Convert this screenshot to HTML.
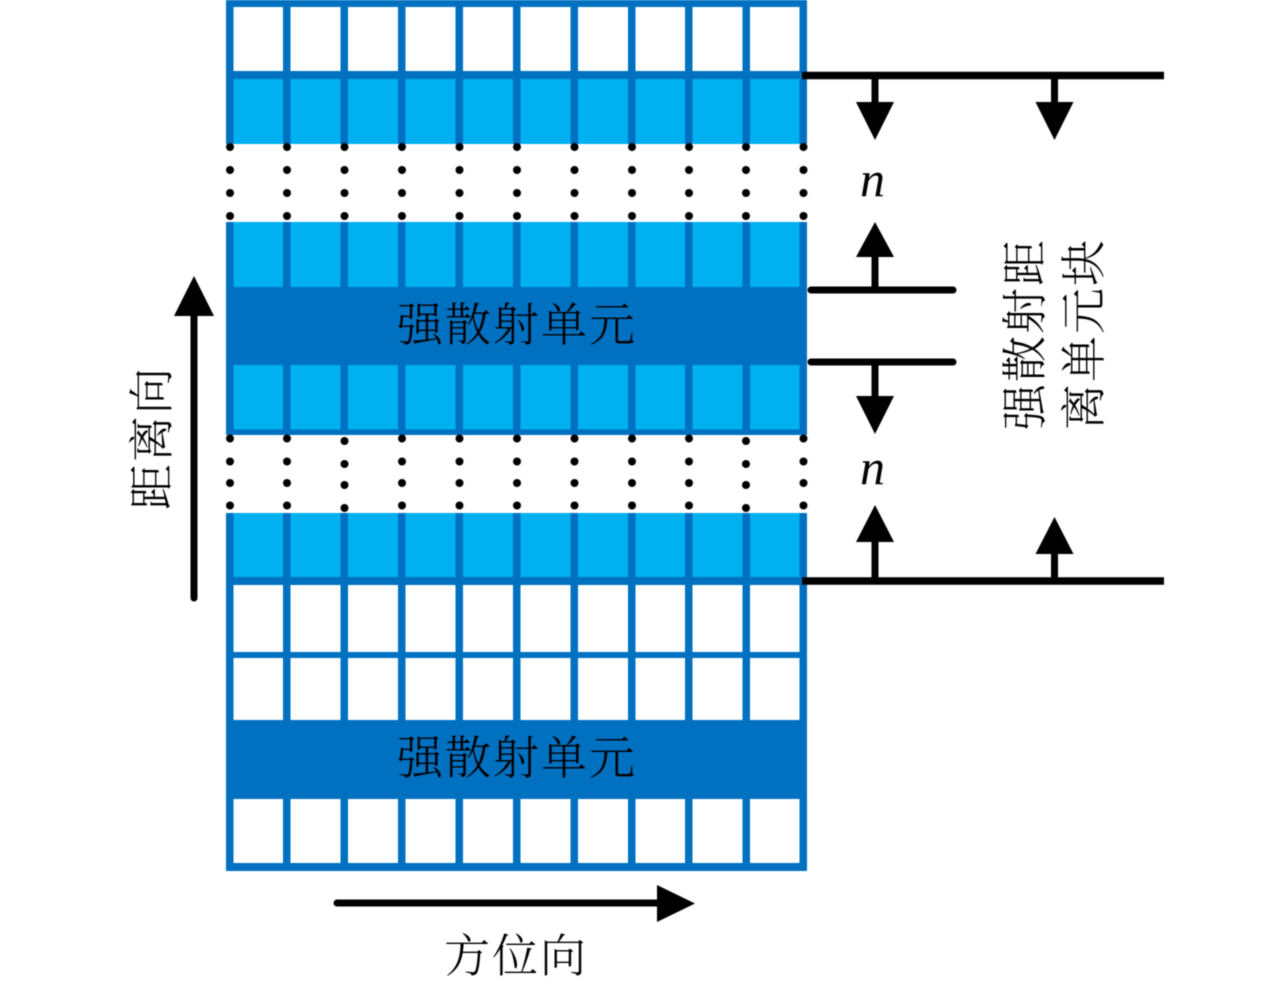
<!DOCTYPE html>
<html lang="zh">
<head>
<meta charset="utf-8">
<title>强散射距离单元块</title>
<style>
html,body{margin:0;padding:0;background:#fff;width:1280px;height:981px;overflow:hidden}
svg{display:block;filter:blur(0.45px)}
text.c{font-family:"Liberation Serif","Noto Serif CJK SC",serif;font-size:46px;font-weight:300;letter-spacing:2px;fill:#000}
</style>
</head>
<body>
<svg width="1280" height="981" viewBox="0 0 1280 981" xmlns="http://www.w3.org/2000/svg">
<rect width="1280" height="981" fill="#fff"/>

<!-- light bands -->
<g fill="#00B0F0">
<rect x="226" y="75" width="581" height="69"/>
<rect x="226" y="222" width="581" height="66"/>
<rect x="226" y="362" width="581" height="70"/>
<rect x="226" y="513" width="581" height="68"/>
</g>

<!-- grid verticals -->
<g fill="#0070C0">
<g>
<rect x="226" y="0" width="7.5" height="144"/><rect x="283" y="0" width="7.5" height="144"/><rect x="340.5" y="0" width="7.5" height="144"/><rect x="398" y="0" width="7.5" height="144"/><rect x="455.5" y="0" width="7.5" height="144"/><rect x="513" y="0" width="7.5" height="144"/><rect x="570.5" y="0" width="7.5" height="144"/><rect x="628" y="0" width="7.5" height="144"/><rect x="685" y="0" width="7.5" height="144"/><rect x="742.5" y="0" width="7.5" height="144"/><rect x="799.5" y="0" width="7.5" height="144"/>
</g>
<g>
<rect x="226" y="222" width="7.5" height="212"/><rect x="283" y="222" width="7.5" height="212"/><rect x="340.5" y="222" width="7.5" height="212"/><rect x="398" y="222" width="7.5" height="212"/><rect x="455.5" y="222" width="7.5" height="212"/><rect x="513" y="222" width="7.5" height="212"/><rect x="570.5" y="222" width="7.5" height="212"/><rect x="628" y="222" width="7.5" height="212"/><rect x="685" y="222" width="7.5" height="212"/><rect x="742.5" y="222" width="7.5" height="212"/><rect x="799.5" y="222" width="7.5" height="212"/>
</g>
<g>
<rect x="226" y="513" width="7.5" height="358"/><rect x="283" y="513" width="7.5" height="358"/><rect x="340.5" y="513" width="7.5" height="358"/><rect x="398" y="513" width="7.5" height="358"/><rect x="455.5" y="513" width="7.5" height="358"/><rect x="513" y="513" width="7.5" height="358"/><rect x="570.5" y="513" width="7.5" height="358"/><rect x="628" y="513" width="7.5" height="358"/><rect x="685" y="513" width="7.5" height="358"/><rect x="742.5" y="513" width="7.5" height="358"/><rect x="799.5" y="513" width="7.5" height="358"/>
</g>
<!-- horizontals -->
<rect x="226" y="0" width="581" height="7"/>
<rect x="226" y="71" width="581" height="8"/>
<rect x="226" y="429.500" width="581" height="5.500"/>
<rect x="226" y="577" width="581" height="8"/>
<rect x="226" y="652" width="581" height="6"/>
<rect x="226" y="863" width="581" height="8"/>
<!-- dark bands -->
<rect x="226" y="287" width="581" height="78"/>
<rect x="226" y="720" width="581" height="79"/>
</g>

<!-- dots -->
<g fill="#000">
<g>
<circle cx="230" cy="147" r="4"/><circle cx="230" cy="170" r="4"/><circle cx="230" cy="193" r="4"/><circle cx="230" cy="216" r="4"/>
<circle cx="287" cy="147" r="4"/><circle cx="287" cy="170" r="4"/><circle cx="287" cy="193" r="4"/><circle cx="287" cy="216" r="4"/>
<circle cx="344.500" cy="147" r="4"/><circle cx="344.500" cy="170" r="4"/><circle cx="344.500" cy="193" r="4"/><circle cx="344.500" cy="216" r="4"/>
<circle cx="402" cy="147" r="4"/><circle cx="402" cy="170" r="4"/><circle cx="402" cy="193" r="4"/><circle cx="402" cy="216" r="4"/>
<circle cx="459.500" cy="147" r="4"/><circle cx="459.500" cy="170" r="4"/><circle cx="459.500" cy="193" r="4"/><circle cx="459.500" cy="216" r="4"/>
<circle cx="517" cy="147" r="4"/><circle cx="517" cy="170" r="4"/><circle cx="517" cy="193" r="4"/><circle cx="517" cy="216" r="4"/>
<circle cx="574.500" cy="147" r="4"/><circle cx="574.500" cy="170" r="4"/><circle cx="574.500" cy="193" r="4"/><circle cx="574.500" cy="216" r="4"/>
<circle cx="632" cy="147" r="4"/><circle cx="632" cy="170" r="4"/><circle cx="632" cy="193" r="4"/><circle cx="632" cy="216" r="4"/>
<circle cx="689" cy="147" r="4"/><circle cx="689" cy="170" r="4"/><circle cx="689" cy="193" r="4"/><circle cx="689" cy="216" r="4"/>
<circle cx="746" cy="147" r="4"/><circle cx="746" cy="170" r="4"/><circle cx="746" cy="193" r="4"/><circle cx="746" cy="216" r="4"/>
<circle cx="803.500" cy="147" r="4"/><circle cx="803.500" cy="170" r="4"/><circle cx="803.500" cy="193" r="4"/><circle cx="803.500" cy="216" r="4"/>
</g>
<g>
<circle cx="230" cy="438.500" r="4"/><circle cx="230" cy="461.500" r="4"/><circle cx="230" cy="483" r="4"/><circle cx="230" cy="505.500" r="4"/>
<circle cx="287" cy="438.500" r="4"/><circle cx="287" cy="461.500" r="4"/><circle cx="287" cy="483" r="4"/><circle cx="287" cy="505.500" r="4"/>
<circle cx="344.500" cy="441" r="4"/><circle cx="344.500" cy="464" r="4"/><circle cx="344.500" cy="485" r="4"/><circle cx="344.500" cy="508" r="4"/>
<circle cx="402" cy="438.500" r="4"/><circle cx="402" cy="461.500" r="4"/><circle cx="402" cy="483" r="4"/><circle cx="402" cy="505.500" r="4"/>
<circle cx="459.500" cy="438.500" r="4"/><circle cx="459.500" cy="461.500" r="4"/><circle cx="459.500" cy="483" r="4"/><circle cx="459.500" cy="505.500" r="4"/>
<circle cx="517" cy="438.500" r="4"/><circle cx="517" cy="461.500" r="4"/><circle cx="517" cy="483" r="4"/><circle cx="517" cy="505.500" r="4"/>
<circle cx="574.500" cy="438.500" r="4"/><circle cx="574.500" cy="461.500" r="4"/><circle cx="574.500" cy="483" r="4"/><circle cx="574.500" cy="505.500" r="4"/>
<circle cx="632" cy="438.500" r="4"/><circle cx="632" cy="461.500" r="4"/><circle cx="632" cy="483" r="4"/><circle cx="632" cy="505.500" r="4"/>
<circle cx="689" cy="438.500" r="4"/><circle cx="689" cy="461.500" r="4"/><circle cx="689" cy="483" r="4"/><circle cx="689" cy="505.500" r="4"/>
<circle cx="746" cy="441" r="4"/><circle cx="746" cy="464" r="4"/><circle cx="746" cy="485" r="4"/><circle cx="746" cy="508" r="4"/>
<circle cx="803.500" cy="438.500" r="4"/><circle cx="803.500" cy="461.500" r="4"/><circle cx="803.500" cy="483" r="4"/><circle cx="803.500" cy="505.500" r="4"/>
</g>
</g>

<!-- right side lines -->
<g stroke="#000" fill="none">
<line x1="802" y1="75.500" x2="1164" y2="75.500" stroke-width="7.500"/>
<line x1="811" y1="290" x2="953" y2="290" stroke-width="7" stroke-linecap="round"/>
<line x1="811" y1="362" x2="953" y2="362" stroke-width="7" stroke-linecap="round"/>
<line x1="802" y1="581" x2="1164" y2="581" stroke-width="7.500"/>
</g>
<g stroke="#000" stroke-width="7" fill="none">
<line x1="875" y1="76" x2="875" y2="104"/>
<line x1="1054.500" y1="76" x2="1054.500" y2="104"/>
<line x1="875" y1="255" x2="875" y2="290"/>
<line x1="875" y1="362" x2="875" y2="398"/>
<line x1="875" y1="540" x2="875" y2="581"/>
<line x1="1054.500" y1="552" x2="1054.500" y2="581"/>
<line x1="194" y1="314" x2="194" y2="598" stroke-linecap="round"/>
<line x1="337" y1="903" x2="659" y2="903" stroke-linecap="round"/>
</g>
<g fill="#000">
<polygon points="856,102 894,102 875,140"/>
<polygon points="1035.500,102 1073.500,102 1054.500,140"/>
<polygon points="875,222 894,257 856,257"/>
<polygon points="856,396 894,396 875,434"/>
<polygon points="875,505 894,542 856,542"/>
<polygon points="1054.500,517 1073.500,554 1035.500,554"/>
<polygon points="194,276 214,316 174,316"/>
<polygon points="657,885 695,903.500 657,922"/>
</g>

<!-- labels -->
<text class="c" x="397" y="341">强散射单元</text>
<text class="c" x="397" y="774">强散射单元</text>
<text class="c" x="444" y="972">方位向</text>
<text class="c" transform="translate(168,510) rotate(-90)">距离向</text>
<text class="c" transform="translate(1041,430) rotate(-90)">强散射距</text>
<text class="c" transform="translate(1100,430) rotate(-90)">离单元块</text>
<text x="860" y="196" font-family="Liberation Serif, serif" font-style="italic" font-size="50" fill="#000">n</text>
<text x="860" y="484" font-family="Liberation Serif, serif" font-style="italic" font-size="50" fill="#000">n</text>
</svg>
</body>
</html>
